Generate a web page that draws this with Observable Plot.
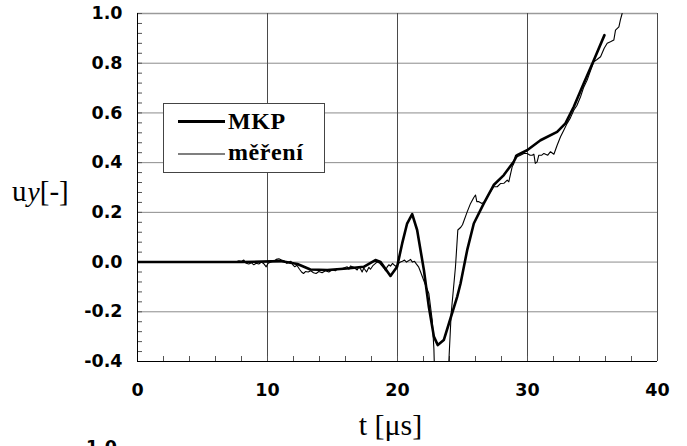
<!DOCTYPE html>
<html>
<head>
<meta charset="utf-8">
<script src="https://cdn.jsdelivr.net/npm/d3@7"></script>
<script src="https://cdn.jsdelivr.net/npm/@observablehq/plot@0.6"></script>
<style>
  body { margin: 0; background: #fff; }
  #chart { position: relative; width: 687px; height: 446px; overflow: hidden; background: #fff; }
  #chart svg.plot { position: absolute; left: 0; top: 0; }
  .ylabel { position: absolute; left: 12px; top: 177px; font-family: "Liberation Serif", serif; font-size: 29px; line-height: 1; white-space: nowrap; }
  .ylabel i { font-size: 0.95em; margin-left: 1px; }
  .xlabel { position: absolute; left: 0; width: 781px; top: 410px; text-align: center; font-family: "Liberation Serif", serif; font-size: 30px; line-height: 1; white-space: nowrap; }
  .next { position: absolute; left: 86px; top: 439px; font-family: "DejaVu Sans", sans-serif; font-weight: bold; font-size: 17.5px; line-height: 1; }
  .legend { position: absolute; left: 163px; top: 103px; width: 160px; height: 68px; background: #fff; border: 1px solid #444; }
  .legend svg { position: absolute; left: 0; top: 0; }
  .legend text { font-family: "Liberation Serif", serif; font-weight: bold; font-size: 24px; letter-spacing: 0.6px; }
</style>
</head>
<body>
<div id="chart"></div>
<script>
// Time axis ticks [µs] and displacement ticks [-]
const xTicks = [0, 10, 20, 30, 40];
const yTicks = [-0.4, -0.2, 0.0, 0.2, 0.4, 0.6, 0.8, 1.0];
const seriesNames = ["MKP", "měření"];

// MKP (finite element) result
const mkpT = [0, 8, 11, 12.3, 13.3, 14.6, 16.1, 17.4, 18.3, 18.7, 19.46, 19.97, 20.36, 20.74, 21.13, 21.51,
  22.03, 22.41, 22.8, 23.1, 23.56, 24.08, 24.59, 24.85, 25.36, 25.87, 26.64, 27.4, 28.18, 28.95, 29.2,
  29.97, 31.0, 32.28, 32.92, 33.56, 34.33, 35.1, 35.92];
const mkpU = [0, 0, 0.004, -0.008, -0.03, -0.032, -0.026, -0.019, 0.008, 0.0, -0.056, -0.019, 0.075, 0.155, 0.193, 0.129,
  -0.032, -0.18, -0.30, -0.334, -0.314, -0.226, -0.14, -0.086, 0.048, 0.155, 0.236, 0.31, 0.35, 0.405, 0.43,
  0.45, 0.49, 0.524, 0.558, 0.625, 0.719, 0.812, 0.913];

// Measured response (měření)
const measT = [7.54, 7.8, 8.0, 8.18, 8.36, 8.56, 8.77, 8.95, 9.13, 9.33, 9.54, 9.74, 9.9, 10.05, 10.26, 10.46,
  10.67, 10.87, 11.08, 11.28, 11.49, 11.64, 11.8, 11.95, 12.1, 12.26, 12.46, 12.62, 12.77, 12.92, 13.13,
  13.33, 13.54, 13.74, 13.95, 14.2, 14.46, 14.72, 14.97, 15.23, 15.36, 15.62, 15.87, 16.13, 16.26, 16.38,
  16.64, 16.9, 17.03, 17.15, 17.28, 17.41, 17.62, 17.8, 17.92, 18.13, 18.31, 18.44, 18.64, 18.82, 18.95,
  19.08, 19.21, 19.33, 19.46, 19.62, 19.77, 19.92, 20.08, 20.23, 20.38, 20.54, 20.69, 20.85, 21.0, 21.15,
  21.31, 21.46, 21.62, 21.77, 22.1, 22.41, 22.67, 22.8, 22.88, 23.9, 23.95, 24.13, 24.46, 24.64, 24.87,
  25.0, 25.36, 25.62, 25.87, 26.0, 26.1, 26.26, 26.5, 26.7, 26.9, 27.15, 27.4, 27.67, 27.92, 28.18,
  28.44, 28.56, 28.82, 28.95, 29.08, 29.2, 29.46, 29.72, 29.97, 30.2, 30.36, 30.49, 30.6, 30.74, 30.87,
  31.1, 31.26, 31.56, 31.77, 32.03, 32.28, 32.54, 32.8, 33.05, 33.3, 33.56, 33.8, 34.08, 34.3, 34.59,
  34.85, 35.1, 35.35, 35.62, 35.9, 36.13, 36.38, 36.64, 36.77, 37.03, 37.15, 37.28];
const measU = [0, 0.005, 0.003, 0.008, -0.005, -0.008, -0.003, -0.011, -0.005, -0.008, 0, -0.008, -0.019, -0.005, 0, 0.003,
  0.011, 0.013, 0.008, 0.005, -0.005, 0, 0.003, -0.011, -0.019, -0.013, -0.029, -0.04, -0.046, -0.038, -0.04,
  -0.035, -0.043, -0.046, -0.038, -0.043, -0.035, -0.04, -0.032, -0.035, -0.027, -0.029, -0.024, -0.019, -0.029, -0.016,
  -0.021, -0.032, -0.019, -0.027, -0.04, -0.024, -0.04, -0.021, -0.029, -0.013, -0.005, 0, -0.005, -0.016, -0.024,
  -0.035, -0.019, -0.011, -0.016, -0.005, -0.013, -0.019, -0.005, 0, 0.003, 0.008, 0, 0.005, 0.011, 0,
  0.003, -0.008, -0.019, -0.039, -0.085, -0.126, -0.233, -0.35, -0.5, -0.5, -0.40, -0.206, -0.019, 0.129, 0.14,
  0.15, 0.202, 0.236, 0.26, 0.27, 0.243, 0.243, 0.236, 0.243, 0.263, 0.283, 0.303, 0.303, 0.316, 0.317,
  0.33, 0.323, 0.383, 0.397, 0.43, 0.424, 0.43, 0.437, 0.437, 0.43, 0.43, 0.434, 0.397, 0.403, 0.43,
  0.43, 0.437, 0.43, 0.444, 0.434, 0.47, 0.504, 0.531, 0.558, 0.58, 0.611, 0.63, 0.665, 0.70, 0.732,
  0.77, 0.806, 0.815, 0.826, 0.86, 0.88, 0.886, 0.893, 0.933, 0.946, 0.975, 1.0];

const mkp = mkpT.map((t, i) => ({t, u: mkpU[i]}));
const meas = measT.map((t, i) => ({t, u: measU[i]}));

const W = 687, H = 446, mL = 137, mR = 30, mT = 13, mB = 85;
const innerW = W - mL - mR, innerH = H - mT - mB;
const tickLen = 5;
const minorY = d3.range(-0.4, 1.0001, 0.04);
const minorX = d3.range(2, 40, 2);

const plot = Plot.plot({
  width: W, height: H,
  marginLeft: mL, marginRight: mR, marginTop: mT, marginBottom: mB,
  style: {fontFamily: "DejaVu Sans", fontWeight: "bold", fontSize: "17.5px", color: "#000", background: "transparent", overflow: "visible"},
  x: {domain: [0, 40], label: null},
  y: {domain: [-0.4, 1.0], label: null},
  marks: [
    // grid
    Plot.ruleY(yTicks.filter(v => v > -0.4 && v < 1.0), {stroke: "#8c8c8c", strokeOpacity: 1}),
    Plot.ruleY([1.0], {stroke: "#9a9a9a", strokeOpacity: 1, strokeWidth: 1.5}),
    Plot.ruleX(xTicks.filter(v => v > 0), {stroke: "#4a4a4a", strokeOpacity: 1}),
    // inward minor ticks
    Plot.tickY(minorY, {y: d => d, insetRight: innerW - tickLen, stroke: "#555", strokeOpacity: 1}),
    Plot.tickX(minorX, {x: d => d, insetTop: innerH - tickLen, stroke: "#555", strokeOpacity: 1}),
    // axis lines
    Plot.ruleX([0], {stroke: "#000", strokeOpacity: 1}),
    Plot.ruleY([-0.4], {stroke: "#000", strokeOpacity: 1}),
    // curves
    Plot.line(meas, {x: "t", y: "u", stroke: "#000", strokeWidth: 1.1, clip: true}),
    Plot.line(mkp, {x: "t", y: "u", stroke: "#000", strokeWidth: 2.6, clip: true}),
    // tick labels
    Plot.axisY({ticks: yTicks, tickSize: 0, tickPadding: 15, label: null, tickFormat: d => d.toFixed(1)}),
    Plot.axisX({ticks: xTicks, tickSize: 0, tickPadding: 22, label: null, tickFormat: d => String(d)})
  ]
});
plot.classList.add("plot");

const root = document.getElementById("chart");
root.appendChild(plot);

// axis titles
const yl = document.createElement("div");
yl.className = "ylabel";
yl.innerHTML = "u<i>y</i>[-]";
root.appendChild(yl);

const xl = document.createElement("div");
xl.className = "xlabel";
xl.textContent = "t [μs]";
root.appendChild(xl);

// legend
const lg = document.createElement("div");
lg.className = "legend";
lg.innerHTML = `<svg width="160" height="68">
  <line x1="14" x2="61" y1="17.5" y2="17.5" stroke="#000" stroke-width="3"/>
  <text x="64" y="25">${seriesNames[0]}</text>
  <line x1="14" x2="61" y1="50" y2="50" stroke="#000" stroke-width="1.1"/>
  <text x="64" y="56">${seriesNames[1]}</text>
</svg>`;
root.appendChild(lg);

// top of the next panel's first tick label
const nx = document.createElement("div");
nx.className = "next";
nx.textContent = "1.0";
root.appendChild(nx);
</script>
</body>
</html>
